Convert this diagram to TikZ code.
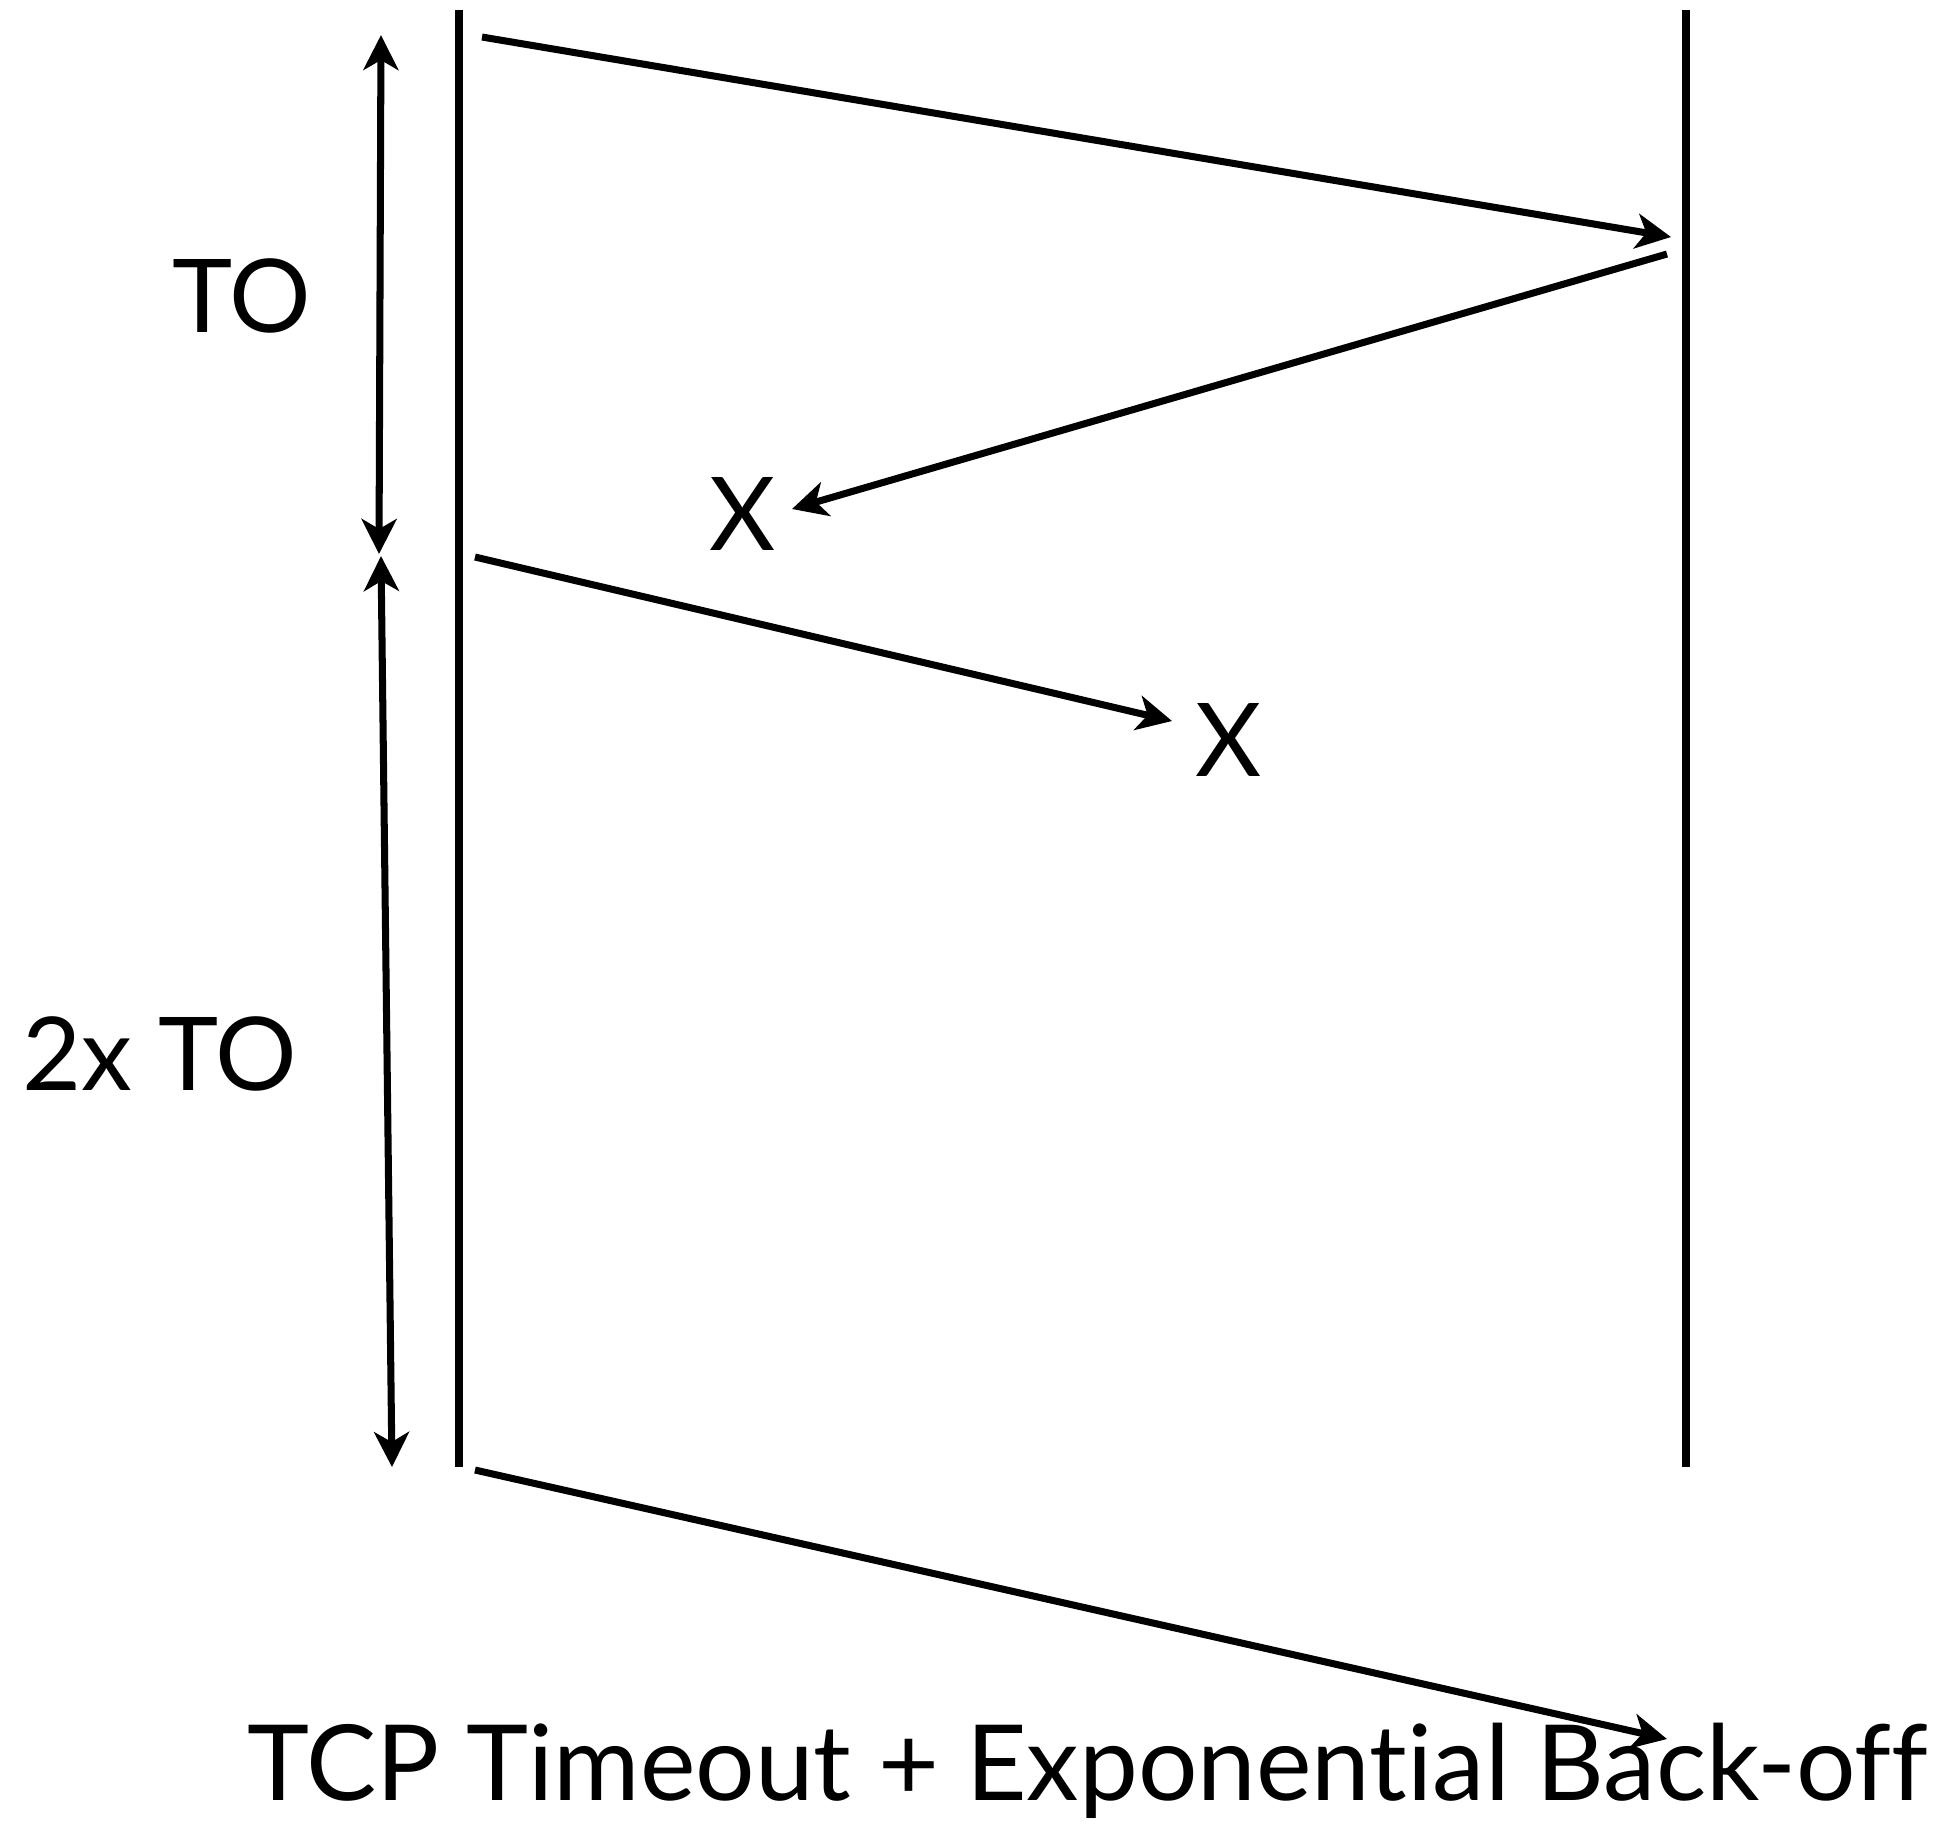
\documentclass[tikz,border=0pt]{standalone}
\usepackage{fontspec}
\setmainfont{Lato}[Ligatures={NoCommon, NoRare}]
\usetikzlibrary{arrows.meta}

\begin{document}
\begin{tikzpicture}[
        line width=2pt,
        tip/.style={-{Stealth[length=3.5mm, width=3.5mm, inset=1mm]}},
        span/.style={{Stealth[length=3.5mm, width=3.5mm, inset=1mm]}-{Stealth[length=3.5mm, width=3.5mm, inset=1mm]}},
        label/.style={inner sep=0pt, font=\fontsize{29}{34}\selectfont}
    ]

    \useasboundingbox (0,0) rectangle (19.33,-18.29);

    % time lines of the two hosts
    \coordinate (senderTop) at (4.59,-0.10);
    \coordinate (senderBot) at (4.59,-14.67);
    \coordinate (recvTop) at (16.86,-0.10);
    \coordinate (recvBot) at (16.86,-14.67);
    \draw (senderTop) -- (senderBot);
    \draw (recvTop) -- (recvBot);

    % packet ends
    \coordinate (seg1) at (4.82,-0.37);
    \coordinate (seg1Arr) at (16.71,-2.37);
    \coordinate (ack1) at (16.67,-2.54);
    \coordinate (ack1Lost) at (7.92,-5.09);
    \coordinate (seg2) at (4.75,-5.57);
    \coordinate (seg2Lost) at (11.72,-7.21);
    \coordinate (seg3) at (4.75,-14.70);
    \coordinate (seg3Arr) at (16.67,-17.39);

    \draw[tip] (seg1) -- (seg1Arr);
    \draw[tip] (ack1) -- (ack1Lost);
    \draw[tip] (seg2) -- (seg2Lost);
    \draw[tip] (seg3) -- (seg3Arr);

    \node[label] (lost1) at (7.43,-5.14) {X};
    \node[label] (lost2) at (12.29,-7.40) {X};

    % timeout spans
    \coordinate (to1Top) at (3.81,-0.35);
    \coordinate (to1Bot) at (3.79,-5.54);
    \coordinate (to2Top) at (3.81,-5.56);
    \coordinate (to2Bot) at (3.92,-14.67);
    \draw[span] (to1Top) -- (to1Bot);
    \draw[span] (to2Top) -- (to2Bot);

    \node[label] (toLabel) at (2.42,-2.96) {TO};
    \node[label] (twoToLabel) at (1.60,-10.54) {2x TO};

    \node[label, anchor=base west, font=\fontsize{29.9}{36}\selectfont] (title) at (2.44,-18.00) {TCP Timeout + Exponential Back-off};
\end{tikzpicture}
\end{document}
